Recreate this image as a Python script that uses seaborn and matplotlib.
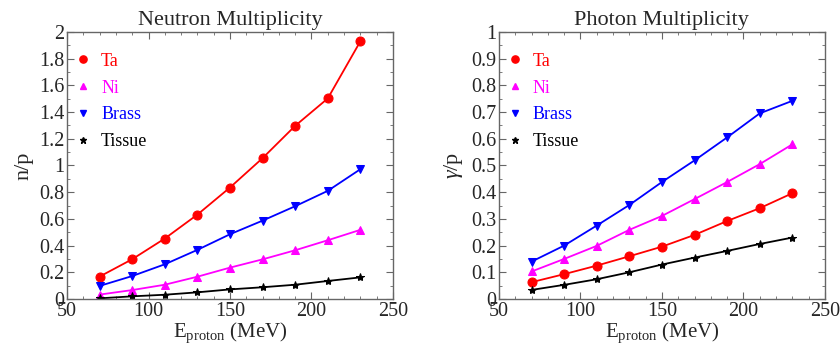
import matplotlib
matplotlib.use("Agg")
import matplotlib.pyplot as plt
import numpy as np
import pandas as pd
import seaborn as sns
from matplotlib.lines import Line2D
from matplotlib.ticker import FuncFormatter, MultipleLocator

# proton energies (MeV)
energy = [70, 90, 110, 130, 150, 170, 190, 210, 230]
materials = ["Ta", "Ni", "Brass", "Tissue"]

# neutrons per proton
neutron_ta = [0.168, 0.298, 0.453, 0.632, 0.835, 1.055, 1.297, 1.502, 1.93]
neutron_ni = [0.033, 0.067, 0.107, 0.167, 0.235, 0.297, 0.365, 0.44, 0.518]
neutron_brass = [0.098, 0.172, 0.26, 0.368, 0.485, 0.587, 0.695, 0.81, 0.972]
neutron_tissue = [0.005, 0.02, 0.032, 0.05, 0.072, 0.088, 0.107, 0.135, 0.162]

# photons per proton
photon_ta = [0.063, 0.093, 0.125, 0.16, 0.196, 0.24, 0.292, 0.34, 0.396]
photon_ni = [0.103, 0.15, 0.199, 0.259, 0.311, 0.374, 0.438, 0.505, 0.579]
photon_brass = [0.14, 0.2, 0.275, 0.352, 0.438, 0.519, 0.605, 0.695, 0.742]
photon_tissue = [0.034, 0.053, 0.074, 0.1, 0.129, 0.155, 0.18, 0.206, 0.23]

colors = {"Ta": "#ff0000", "Ni": "#ff00ff", "Brass": "#0000ff", "Tissue": "#000000"}
markers = {"Ta": "o", "Ni": "^", "Brass": "v", "Tissue": "*"}
msizes = {"Ta": 6.5, "Ni": 5.5, "Brass": 6, "Tissue": 6}


def to_long(series):
    rows = []
    for name, vals in zip(materials, series):
        for e, v in zip(energy, vals):
            rows.append({"energy": e, "value": v, "material": name})
    return pd.DataFrame(rows)


neutron_df = to_long([neutron_ta, neutron_ni, neutron_brass, neutron_tissue])
photon_df = to_long([photon_ta, photon_ni, photon_brass, photon_tissue])

sns.set_style("ticks")
plt.rcParams["font.family"] = "serif"
plt.rcParams["font.serif"] = ["Liberation Serif", "DejaVu Serif"]
plt.rcParams["mathtext.fontset"] = "custom"
plt.rcParams["mathtext.rm"] = "Liberation Serif"
plt.rcParams["mathtext.it"] = "Liberation Serif:italic"

fig = plt.figure(figsize=(8.4, 3.5), dpi=100)
ax1 = fig.add_axes([0.0798, 0.1457, 0.388, 0.763])
ax2 = fig.add_axes([0.594, 0.1457, 0.388, 0.763])


def draw(ax, df, title, ylabel, ymax, ymajor, yminor):
    for name in materials:
        sub = df[df["material"] == name]
        sns.lineplot(data=sub, x="energy", y="value", ax=ax, color=colors[name],
                     marker=markers[name], markersize=msizes[name],
                     markeredgecolor=colors[name], linewidth=1.3, legend=False)
    ax.set_xlim(50, 250)
    ax.set_ylim(0, ymax)
    ax.xaxis.set_major_locator(MultipleLocator(50))
    ax.xaxis.set_minor_locator(MultipleLocator(10))
    ax.yaxis.set_major_locator(MultipleLocator(ymajor))
    ax.yaxis.set_minor_locator(MultipleLocator(yminor))
    ax.yaxis.set_major_formatter(FuncFormatter(lambda v, p: f"{v:g}"))
    ax.tick_params(which="both", direction="in", top=True, right=True,
                   color="#666666", labelsize=14.5, pad=2)
    ax.tick_params(which="major", length=5)
    ax.tick_params(which="minor", length=2.5)
    for s in ax.spines.values():
        s.set_color("#666666")
        s.set_linewidth(1.0)
    ax.set_title(title, fontsize=16, pad=5)
    ax.set_xlabel(r"E$_{\rm proton}$ (MeV)", fontsize=15, labelpad=0)
    ax.set_ylabel(ylabel, fontsize=16, labelpad=4)

    handles = [Line2D([], [], linestyle="none", marker=markers[n], color=colors[n],
                      markersize=msizes[n] * 0.8) for n in materials]
    ax.legend(handles, materials, loc="upper left", frameon=False, fontsize=13,
              labelcolor=[colors[n] for n in materials], handlelength=0.8,
              handletextpad=0.6, labelspacing=0.55, borderaxespad=0.3,
              bbox_to_anchor=(-0.012, 0.97))


draw(ax1, neutron_df, "Neutron Multiplicity", "n/p", 2, 0.2, 0.1)
draw(ax2, photon_df, "Photon Multiplicity", r"$\gamma$/p", 1, 0.1, 0.05)

fig.savefig("out.png", dpi=100)
